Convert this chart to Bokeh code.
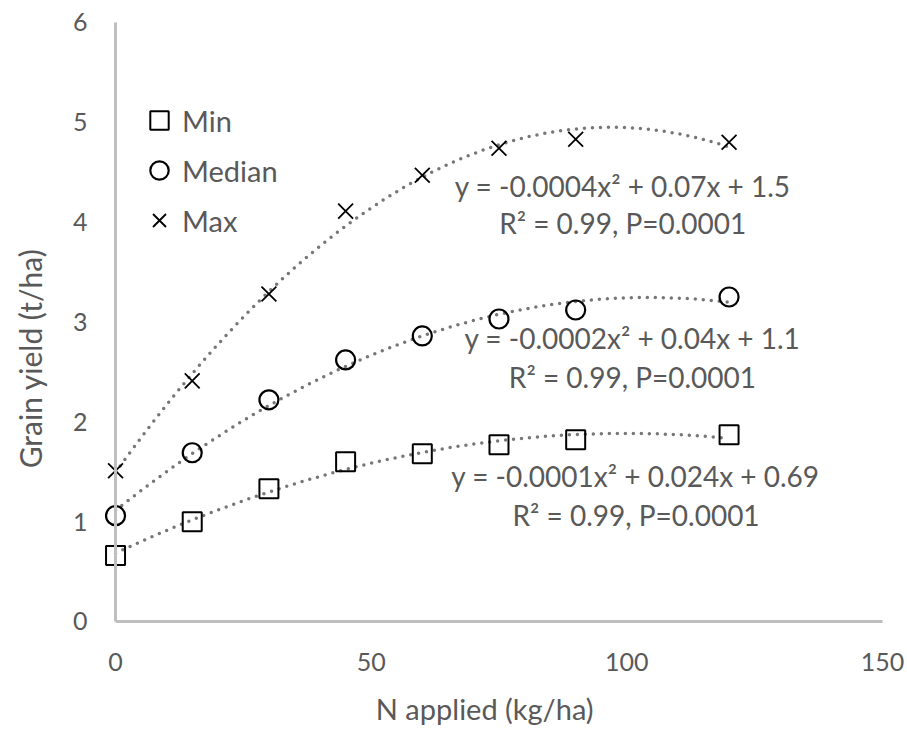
import numpy as np
from bokeh.plotting import figure
from bokeh.models import Range1d, Label, Legend, LegendItem
from bokeh.embed import file_html
from bokeh.resources import INLINE

# ---- data ----
n_applied = [0, 15, 30, 45, 60, 75, 90, 120]
yield_min = [0.66, 1.00, 1.33, 1.60, 1.68, 1.77, 1.82, 1.87]
yield_median = [1.06, 1.69, 2.22, 2.62, 2.86, 3.03, 3.12, 3.25]
yield_max = [1.51, 2.41, 3.28, 4.11, 4.47, 4.74, 4.83, 4.80]

series_names = ["Min", "Median", "Max"]
equations = [
    "y = -0.0001x² + 0.024x + 0.69",
    "y = -0.0002x² + 0.04x + 1.1",
    "y = -0.0004x² + 0.07x + 1.5",
]
stats_text = ["R² = 0.99, P=0.0001", "R² = 0.99, P=0.0001", "R² = 0.99, P=0.0001"]
x_ticks = [0, 50, 100, 150]
y_ticks = [0, 1, 2, 3, 4, 5, 6]

FONT = "Lato"
TXT = "#595959"
AXIS = "#BFBFBF"
TREND = "#767676"

# The frame covers the whole canvas; both axes are fixed at 0 so that their
# labels and the titles sit inside it (nothing gets clipped).
p = figure(width=907, height=730, output_backend="svg", toolbar_location=None,
           x_range=Range1d(-22.5, 154.9), y_range=Range1d(-1.092, 6.22),
           min_border_left=0, min_border_right=0, min_border_top=0,
           min_border_bottom=0)
p.outline_line_color = None
p.grid.visible = False
p.background_fill_color = "white"
p.border_fill_color = "white"

for ax in (p.xaxis[0], p.yaxis[0]):
    ax.axis_line_color = AXIS
    ax.axis_line_width = 3
    ax.major_tick_line_color = None
    ax.minor_tick_line_color = None
    ax.major_tick_in = 0
    ax.major_tick_out = 0
    ax.minor_tick_in = 0
    ax.minor_tick_out = 0
    ax.major_label_text_font = FONT
    ax.major_label_text_font_size = "25px"
    ax.major_label_text_color = TXT
p.xaxis.ticker = x_ticks
p.yaxis.ticker = y_ticks
p.xaxis.bounds = (0, 150)
p.yaxis.bounds = (0, 6)
p.xaxis.fixed_location = 0
p.yaxis.fixed_location = 0
p.xaxis.major_label_standoff = 32
p.yaxis.major_label_standoff = 28

# axis titles
p.add_layout(Label(x=72.2, y=-0.872, text="N applied (kg/ha)", text_align="center",
                   text_baseline="middle", text_font=FONT, text_font_size="29px",
                   text_color=TXT))
p.add_layout(Label(x=-16.8, y=2.635, text="Grain yield (t/ha)", angle=np.pi / 2,
                   text_align="center", text_baseline="middle", text_font=FONT,
                   text_font_size="30px", text_color=TXT))

# trendlines (2nd-order polynomial fit of each series) and markers
xs_fit = np.linspace(min(n_applied), max(n_applied), 120)
renderers = []
for ys, marker, size, lw in [(yield_min, "square", 19, 2),
                             (yield_median, "circle", 19, 2.2),
                             (yield_max, "x", 21, 1.8)]:
    coef = np.polyfit(n_applied, ys, 2)
    p.line(xs_fit, np.polyval(coef, xs_fit), line_color=TREND, line_width=3.5,
           line_dash="0 8", line_cap="round")
    r = p.scatter(n_applied, ys, marker=marker, size=size, fill_color=None,
                  line_color="black", line_width=lw)
    renderers.append(r)

legend = Legend(items=[LegendItem(label=n, renderers=[r]) for n, r in zip(series_names, renderers)],
                location=(136, 486), orientation="vertical",
                glyph_width=46, glyph_height=48, spacing=2, padding=0, margin=0,
                label_standoff=0, label_text_font=FONT, label_text_font_size="29px",
                label_text_color=TXT, background_fill_alpha=0, border_line_color=None)
p.add_layout(legend, "center")

# equation annotations
eq_pos = [((101.7, 1.46), (101.8, 1.07)),
          ((101.1, 2.84), (101.1, 2.45)),
          ((99.2, 4.36), (99.2, 3.99))]
for (pe, ps), eq, st in zip(eq_pos, equations, stats_text):
    for (lx, ly), t in ((pe, eq), (ps, st)):
        p.add_layout(Label(x=lx, y=ly, text=t, text_align="center", text_baseline="middle",
                           text_font=FONT, text_font_size="28px", text_color=TXT))

open("out.html", "w").write(file_html(p, INLINE))
